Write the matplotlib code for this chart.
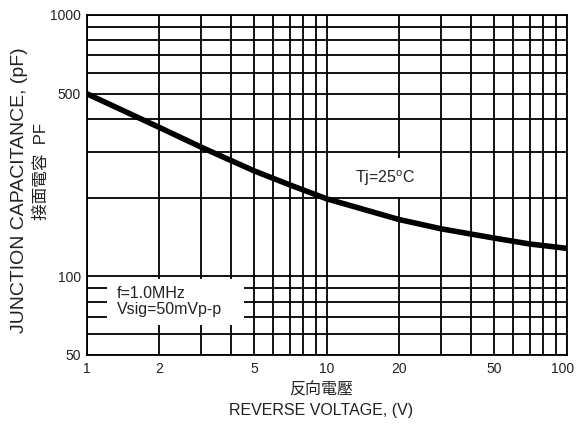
import matplotlib.pyplot as plt
import matplotlib.transforms as mtransforms
from matplotlib.ticker import FixedLocator, LogLocator, NullFormatter, FixedFormatter

plt.rcParams['font.family'] = ['Liberation Sans', 'Noto Sans CJK TC', 'DejaVu Sans']

# --- data ---
voltage = [1, 2, 3, 5, 7, 10, 20, 30, 50, 70, 100]
capacitance = [500, 372, 312, 253, 224, 198, 165, 152, 140, 133, 128]

x_ticks = [1, 2, 5, 10, 20, 50, 100]
x_tick_labels = ['1', '2', '5', '10', '20', '50', '100']
y_ticks = [50, 100, 500, 1000]
y_tick_labels = ['50', '100', '500', '1000']

W, H = 576, 428
fig = plt.figure(figsize=(W / 100, H / 100), dpi=100)
ax = fig.add_axes([86.7 / W, 1 - 355 / H, 480 / W, 340 / H])

ax.set_xscale('log')
ax.set_yscale('log')
ax.set_xlim(1, 100)
ax.set_ylim(50, 1000)

ax.xaxis.set_major_locator(FixedLocator(x_ticks))
ax.xaxis.set_major_formatter(FixedFormatter(x_tick_labels))
ax.yaxis.set_major_locator(FixedLocator(y_ticks))
ax.yaxis.set_major_formatter(FixedFormatter(y_tick_labels))
for axis in (ax.xaxis, ax.yaxis):
    axis.set_minor_locator(LogLocator(base=10, subs=range(1, 10), numticks=20))
    axis.set_minor_formatter(NullFormatter())

ax.tick_params(which='both', length=0)
ax.tick_params(axis='x', pad=5, labelsize=10, colors='#222222')
ax.tick_params(axis='y', pad=4, labelsize=10, colors='#222222')

# keep the last x label ("100") inside the figure
last = ax.get_xticklabels()[-1]
last.set_transform(last.get_transform() +
                   mtransforms.ScaledTranslation(-4 / 100, 0, fig.dpi_scale_trans))

ax.set_axisbelow(True)
ax.grid(which='both', color='black', linewidth=1.3)
for s in ax.spines.values():
    s.set_linewidth(1.3)

# curve
ax.plot(voltage, capacitance, color='black', linewidth=4, solid_capstyle='butt', zorder=4)

# text boxes
ax.add_patch(plt.Rectangle((1.22, 65), 4.53 - 1.22, 98 - 65, facecolor='white',
                           edgecolor='none', zorder=2))
ax.text(1.33, 80, 'f=1.0MHz\nVsig=50mVp-p', fontsize=11.5, ha='left', va='center',
        color='#222222', linespacing=1.1, zorder=3)
ax.text(17.5, 238, 'Tj=25$^{\\mathregular{o}}$C', fontsize=11.5, ha='center', va='center',
        color='#222222', zorder=3,
        bbox=dict(facecolor='white', edgecolor='none', pad=7))

# axis labels
fig.text(321 / W, 1 - 390 / H, '反向電壓', fontsize=11.5, ha='center', va='center',
         color='#222222')
fig.text(321 / W, 1 - 411 / H, 'REVERSE VOLTAGE, (V)', fontsize=11.5, ha='center',
         va='center', color='#222222')
fig.text(20 / W, 1 - 190 / H, 'JUNCTION CAPACITANCE, (pF)', fontsize=14, rotation=90,
         ha='center', va='center', color='#222222')
fig.text(41 / W, 1 - 172 / H, '接面電容  PF', fontsize=12, rotation=90,
         ha='center', va='center', color='#222222')

fig.savefig('out.png', dpi=100)
